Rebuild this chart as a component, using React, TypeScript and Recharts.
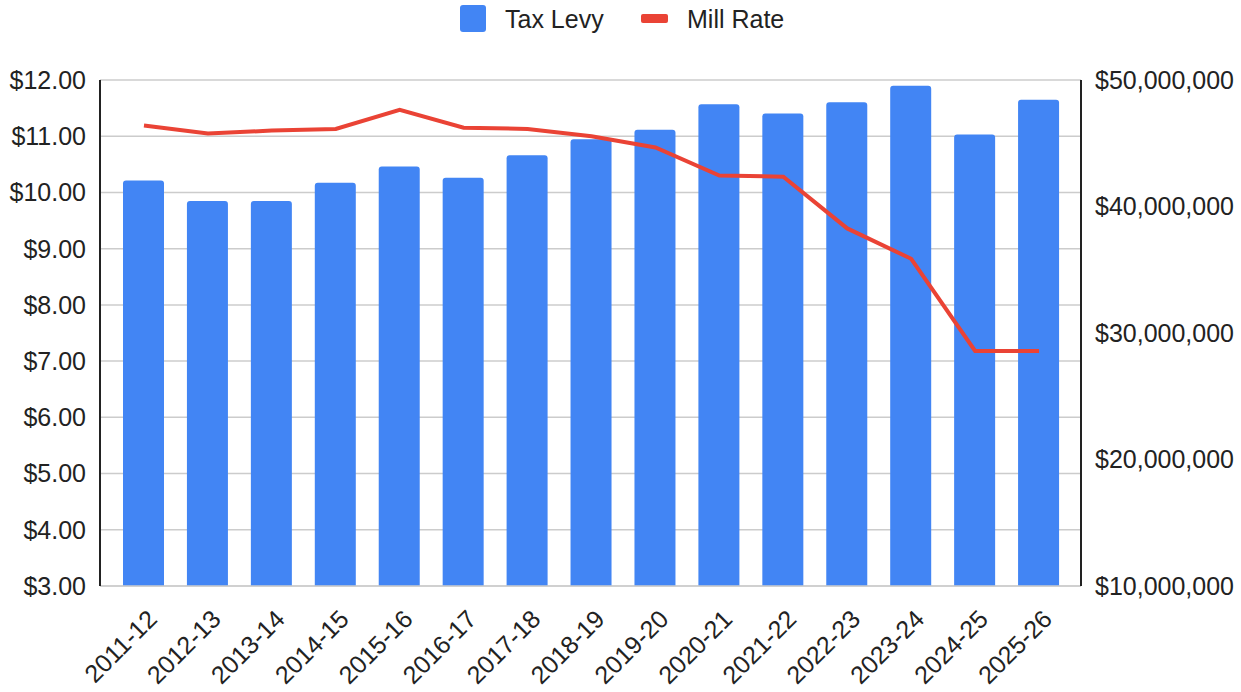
import React from "react";
import {
  ComposedChart,
  Bar,
  Line,
  XAxis,
  YAxis,
  CartesianGrid,
} from "recharts";

const years = [
  "2011-12", "2012-13", "2013-14", "2014-15", "2015-16", "2016-17", "2017-18",
  "2018-19", "2019-20", "2020-21", "2021-22", "2022-23", "2023-24", "2024-25", "2025-26",
];
const taxLevy = [
  42060000, 40430000, 40430000, 41880000, 43170000, 42270000, 44060000,
  45320000, 46070000, 48090000, 47350000, 48250000, 49550000, 45700000, 48440000,
];
const millRate = [
  11.19, 11.05, 11.1, 11.13, 11.47, 11.15, 11.13, 11.0, 10.8, 10.3, 10.28, 9.36, 8.82, 7.18, 7.18,
];
const leftTicks = [3, 4, 5, 6, 7, 8, 9, 10, 11, 12];
const rightTicks = [10000000, 20000000, 30000000, 40000000, 50000000];

const data = years.map((y, i) => ({ year: y, levy: taxLevy[i], mill: millRate[i] }));

const FONT = "'Liberation Sans', Arial, Helvetica, sans-serif";
const TEXT = "#222222";
const BLUE = "#4285F4";
const RED = "#EA4335";

export default function App() {
  return (
    <div style={{ position: "absolute", left: 0, top: 0, width: 1241, height: 692, fontFamily: FONT, background: "#fff" }}>
      <div style={{ position: "absolute", left: 460, top: 5, width: 26, height: 27, background: BLUE, borderRadius: 3 }} />
      <div style={{ position: "absolute", left: 505, top: 4, fontSize: 25, color: TEXT, lineHeight: "30px" }}>Tax Levy</div>
      <div style={{ position: "absolute", left: 641, top: 14, width: 27, height: 9, background: RED, borderRadius: 2 }} />
      <div style={{ position: "absolute", left: 687, top: 4, fontSize: 25, color: TEXT, lineHeight: "30px" }}>Mill Rate</div>
      <ComposedChart
        width={1241}
        height={692}
        data={data}
        margin={{ top: 80, right: 0, bottom: 0, left: 0 }}
        style={{ fontFamily: FONT }}
      >
        <CartesianGrid yAxisId="left" vertical={false} stroke="#cccccc" strokeWidth={1.5} />
        <XAxis
          dataKey="year"
          height={106}
          padding={{ left: 12, right: 10 }}
          tickLine={false}
          tickMargin={16}
          axisLine={{ stroke: "#cccccc", strokeWidth: 1.5 }}
          interval={0}
          angle={-45}
          textAnchor="end"
          tick={{ fill: TEXT, fontSize: 25, fontFamily: FONT, dx: 2 }}
        />
        <YAxis
          yAxisId="left"
          orientation="left"
          width={100}
          domain={[3, 12]}
          ticks={leftTicks}
          tickLine={false}
          tickMargin={8}
          axisLine={{ stroke: "#222222", strokeWidth: 2 }}
          tickFormatter={(v: number) => "$" + v.toFixed(2)}
          tick={{ fill: TEXT, fontSize: 25, fontFamily: FONT }}
        />
        <YAxis
          yAxisId="right"
          orientation="right"
          width={160}
          domain={[10000000, 50000000]}
          ticks={rightTicks}
          tickLine={false}
          tickMargin={8}
          axisLine={{ stroke: "#222222", strokeWidth: 2 }}
          tickFormatter={(v: number) => "$" + v.toLocaleString("en-US")}
          tick={{ fill: TEXT, fontSize: 25, fontFamily: FONT }}
        />
        <Bar yAxisId="right" dataKey="levy" fill={BLUE} barSize={41} radius={[3, 3, 0, 0]} isAnimationActive={false} />
        <Line
          yAxisId="left"
          type="linear"
          dataKey="mill"
          stroke={RED}
          strokeWidth={4}
          dot={false}
          activeDot={false}
          isAnimationActive={false}
        />
      </ComposedChart>
    </div>
  );
}
